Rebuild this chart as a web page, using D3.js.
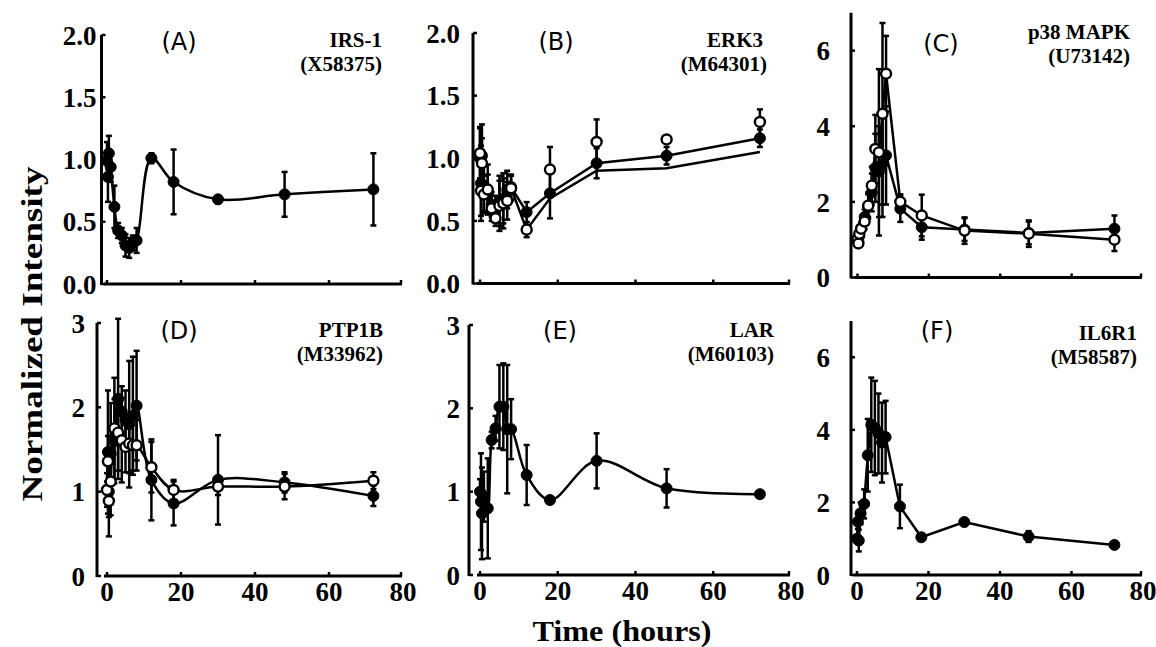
<!DOCTYPE html>
<html>
<head>
<meta charset="utf-8">
<script src="https://cdn.jsdelivr.net/npm/d3@7"></script>
<style>
  body { margin: 0; background: #fff; }
  svg { display: block; }
</style>
</head>
<body>
<svg id="chart" width="1156" height="647"></svg>
<script>
// sampling times (hours) shared by all panels
const hours = [0, 0.25, 0.5, 1, 2, 3, 4, 5, 6, 7, 8, 12, 18, 30, 48, 72];
const xTicks = [0, 20, 40, 60, 80];
const yTicksHalf = [0, 0.5, 1, 1.5, 2];
const yTicksSeven = [0, 2, 4, 6];
const yTicksThree = [0, 1, 2, 3];

const panelLetters = ["(A)", "(B)", "(C)", "(D)", "(E)", "(F)"];
const geneNames = ["IRS-1", "ERK3", "p38 MAPK", "PTP1B", "LAR", "IL6R1"];
const accessions = ["(X58375)", "(M64301)", "(U73142)", "(M33962)", "(M60103)", "(M58587)"];

// (A) IRS-1
const irs1 = [0.99, 0.86, 1.05, 0.94, 0.62, 0.43, 0.39, 0.31, 0.29, 0.33, 0.35, 1.01, 0.82, 0.68, 0.72, 0.76];
const irs1Err = [0.15, 0.2, 0.14, 0.12, 0.17, 0.06, 0.06, 0.09, 0.08, 0.06, 0.1, 0.04, 0.26, 0.03, 0.18, 0.29];

// (B) ERK3
const erk3Filled = [1.0, 0.8, 1.02, 0.78, 0.72, 0.63, 0.6, 0.66, 0.68, 0.75, 0.77, 0.57, 0.72, 0.96, 1.02, 1.16];
const erk3FilledErr = [0.25, 0.3, 0.25, 0.2, 0.15, 0.1, 0.1, 0.2, 0.2, 0.15, 0.1, 0.08, 0.2, 0.12, 0.07, 0.07];
const erk3Open = [1.04, 0.74, 0.96, 0.71, 0.75, 0.6, 0.52, 0.62, 0.64, 0.66, 0.76, 0.43, 0.91, 1.13, 1.15, 1.29];
const erk3OpenErr = [0.2, 0.2, 0.2, 0.15, 0.2, 0.1, 0.06, 0.2, 0.2, 0.15, 0.1, 0.06, 0.18, 0.18, 0, 0.1];
const erk3OpenLine = [1.04, 0.74, 0.96, 0.71, 0.75, 0.6, 0.52, 0.62, 0.64, 0.66, 0.76, 0.43, 0.68, 0.9, 0.92, 1.05];

// (C) p38 MAPK
const p38Filled = [1.0, 0.95, 1.1, 1.3, 1.6, 1.9, 2.25, 2.9, 2.8, 3.0, 3.23, 1.82, 1.33, 1.27, 1.18, 1.29];
const p38FilledErr = [0.1, 0.1, 0.1, 0.15, 0.2, 0.35, 0.5, 0.9, 1.2, 1.4, 1.3, 0.35, 0.33, 0.3, 0.3, 0.35];
const p38Open = [1.02, 0.9, 1.16, 1.29, 1.48, 1.9, 2.43, 3.4, 3.31, 4.33, 5.39, 2.0, 1.64, 1.24, 1.16, 1.0];
const p38OpenErr = [0.1, 0.1, 0.15, 0.15, 0.2, 0.3, 0.5, 0.9, 2.2, 2.4, 1.0, 0.2, 0.55, 0.35, 0.35, 0.3];

// (D) PTP1B
const ptp1bFilled = [1.02, 1.47, 1.0, 1.45, 1.6, 2.1, 1.95, 1.85, 1.8, 1.9, 2.02, 1.14, 0.86, 1.14, 1.11, 0.95];
const ptp1bFilledErr = [0.2, 0.73, 0.3, 0.6, 0.5, 0.95, 0.3, 0.35, 0.75, 0.7, 0.65, 0.48, 0.26, 0.53, 0.12, 0.12];
const ptp1bOpen = [1.02, 1.36, 0.89, 1.12, 1.75, 1.7, 1.61, 1.53, 1.57, 1.55, 1.55, 1.29, 1.02, 1.06, 1.06, 1.13];
const ptp1bOpenErr = [0.1, 0.3, 0.42, 0.4, 0.6, 0.45, 0.5, 0.3, 0.35, 0.3, 0.3, 0.3, 0.12, 0.1, 0.15, 0.1];

// (E) LAR
const lar = [1.0, 0.88, 0.74, 0.94, 0.8, 1.62, 1.76, 2.02, 2.02, 1.75, 1.75, 1.2, 0.9, 1.37, 1.04, 0.97];
const larErr = [0.15, 0.58, 0.55, 0.3, 0.6, 0.1, 0.15, 0.5, 0.52, 0.77, 0.36, 0.36, 0.03, 0.33, 0.23, 0.02];

// (F) IL6R1
const il6r1 = [1.0, 1.47, 0.95, 1.7, 1.96, 3.3, 4.14, 4.05, 3.9, 3.65, 3.8, 1.89, 1.04, 1.46, 1.06, 0.83];
const il6r1Err = [0.1, 0.2, 0.3, 0.3, 0.4, 1.0, 1.3, 1.3, 1.1, 1.1, 1.0, 0.6, 0.05, 0.05, 0.15, 0.05];

const serif = "'Liberation Serif', 'Times New Roman', serif";
const svg = d3.select("#chart");

const panels = [
    { xr: [107, 403], yr: [284, 35], yd: [0, 2], axisX: 101.5, ticks: yTicksHalf, fmt: d3.format(".1f"), gap: 5,
      letter: [179, 50], gene: [382, 47], acc: [382, 71], xLabels: false, curve: d3.curveCatmullRom,
      series: [{ v: irs1, e: irs1Err, open: false }] },
    { xr: [480, 791], yr: [283.5, 33], yd: [0, 2], axisX: 473, ticks: yTicksHalf, fmt: d3.format(".1f"), gap: 13,
      letter: [556, 50], gene: [763, 47], acc: [767, 71], xLabels: false, curve: d3.curveLinear,
      series: [{ v: erk3Filled, e: erk3FilledErr, open: false },
               { v: erk3Open, e: erk3OpenErr, open: true, line: erk3OpenLine }] },
    { xr: [857.5, 1143], yr: [277.5, 12.8], yd: [0, 7], axisX: 851, ticks: yTicksSeven, fmt: d3.format("d"), gap: 21,
      letter: [941, 52], gene: [1130, 39], acc: [1130, 63], xLabels: false, curve: d3.curveLinear,
      series: [{ v: p38Filled, e: p38FilledErr, open: false },
               { v: p38Open, e: p38OpenErr, open: true }] },
    { xr: [107, 403], yr: [576, 323], yd: [0, 3], axisX: 97, ticks: yTicksThree, fmt: d3.format("d"), gap: 12,
      letter: [179, 339], gene: [383, 337], acc: [383, 361], xLabels: true, curve: d3.curveCatmullRom,
      series: [{ v: ptp1bFilled, e: ptp1bFilledErr, open: false },
               { v: ptp1bOpen, e: ptp1bOpenErr, open: true }] },
    { xr: [480, 791], yr: [575, 325], yd: [0, 3], axisX: 469, ticks: yTicksThree, fmt: d3.format("d"), gap: 9,
      letter: [560, 339], gene: [774, 337], acc: [774, 361], xLabels: true, curve: d3.curveCatmullRom,
      series: [{ v: lar, e: larErr, open: false }] },
    { xr: [857, 1143], yr: [575, 321], yd: [0, 7], axisX: 851, ticks: yTicksSeven, fmt: d3.format("d"), gap: 21,
      letter: [937, 339], gene: [1137, 340], acc: [1137, 364], xLabels: true, curve: d3.curveLinear,
      series: [{ v: il6r1, e: il6r1Err, open: false }] }
];

panels.forEach((p, i) => {
    const x = d3.scaleLinear().domain([0, 80]).range(p.xr);
    const y = d3.scaleLinear().domain(p.yd).range(p.yr);
    const g = svg.append("g");

    // y axis
    g.append("line")
        .attr("x1", p.axisX).attr("x2", p.axisX)
        .attr("y1", y(p.yd[0]) + 1).attr("y2", y(p.yd[1]))
        .attr("stroke", "#000").attr("stroke-width", 3);
    g.selectAll(".ytick").data(p.ticks).enter().append("line")
        .attr("x1", p.axisX).attr("x2", p.axisX + 4)
        .attr("y1", d => y(d)).attr("y2", d => y(d))
        .attr("stroke", "#000").attr("stroke-width", 2.5);
    g.selectAll(".ylab").data(p.ticks).enter().append("text")
        .attr("x", p.axisX - p.gap)
        .attr("y", d => y(d))
        .attr("dy", "0.36em")
        .attr("text-anchor", "end")
        .attr("font-family", serif).attr("font-weight", "bold").attr("font-size", 27)
        .text(d => p.fmt(d));

    // x axis
    const base = y(p.yd[0]);
    g.append("line")
        .attr("x1", x(0) - 3).attr("x2", x(80) - 1)
        .attr("y1", base).attr("y2", base)
        .attr("stroke", "#000").attr("stroke-width", 3);
    g.selectAll(".xtick").data(xTicks).enter().append("line")
        .attr("x1", d => Math.min(x(d), x(80) - 2)).attr("x2", d => Math.min(x(d), x(80) - 2))
        .attr("y1", base).attr("y2", base - 4)
        .attr("stroke", "#000").attr("stroke-width", 2.5);
    if (p.xLabels) {
        g.selectAll(".xlab").data(xTicks).enter().append("text")
            .attr("x", d => x(d))
            .attr("y", base + 25)
            .attr("text-anchor", "middle")
            .attr("font-family", serif).attr("font-weight", "bold").attr("font-size", 27)
            .text(d => d);
    }

    // error bars
    p.series.forEach(s => {
        const pts = hours.map((t, k) => ({ t: t, v: s.v[k], e: s.e[k] })).filter(d => d.e > 0);
        const eb = g.append("g").attr("stroke", "#000").attr("stroke-width", 2.5);
        eb.selectAll(".stem").data(pts).enter().append("line")
            .attr("x1", d => x(d.t)).attr("x2", d => x(d.t))
            .attr("y1", d => y(d.v - d.e)).attr("y2", d => y(d.v + d.e));
        eb.selectAll(".capt").data(pts).enter().append("line")
            .attr("x1", d => x(d.t) - 3).attr("x2", d => x(d.t) + 3)
            .attr("y1", d => y(d.v + d.e)).attr("y2", d => y(d.v + d.e));
        eb.selectAll(".capb").data(pts).enter().append("line")
            .attr("x1", d => x(d.t) - 3).attr("x2", d => x(d.t) + 3)
            .attr("y1", d => y(d.v - d.e)).attr("y2", d => y(d.v - d.e));
    });

    // lines
    p.series.forEach(s => {
        const vals = s.line || s.v;
        const line = d3.line().x((d, k) => x(hours[k])).y(d => y(d)).curve(p.curve);
        g.append("path")
            .attr("d", line(vals))
            .attr("fill", "none").attr("stroke", "#000").attr("stroke-width", 2.5);
    });

    // markers: filled first, open on top
    p.series.slice().sort((a, b) => a.open - b.open).forEach(s => {
        g.selectAll(null).data(s.v).enter().append("circle")
            .attr("cx", (d, k) => x(hours[k]))
            .attr("cy", d => y(d))
            .attr("r", s.open ? 5 : 5.5)
            .attr("fill", s.open ? "#fff" : "#000")
            .attr("stroke", "#000").attr("stroke-width", s.open ? 2.4 : 1);
    });

    // panel letter and gene labels
    g.append("text")
        .attr("x", p.letter[0]).attr("y", p.letter[1])
        .attr("text-anchor", "middle")
        .attr("font-family", "'DejaVu Sans', sans-serif").attr("font-size", 24)
        .attr("fill", "#000")
        .text(panelLetters[i]);
    g.append("text")
        .attr("x", p.gene[0]).attr("y", p.gene[1])
        .attr("text-anchor", "end")
        .attr("font-family", serif).attr("font-weight", "bold").attr("font-size", 21)
        .text(geneNames[i]);
    g.append("text")
        .attr("x", p.acc[0]).attr("y", p.acc[1])
        .attr("text-anchor", "end")
        .attr("font-family", serif).attr("font-weight", "bold").attr("font-size", 21)
        .text(accessions[i]);
});

// axis titles
svg.append("text")
    .attr("transform", "translate(42,334) rotate(-90)")
    .attr("text-anchor", "middle")
    .attr("font-family", serif).attr("font-weight", "bold").attr("font-size", 30)
    .attr("textLength", 335).attr("lengthAdjust", "spacingAndGlyphs")
    .text("Normalized Intensity");
svg.append("text")
    .attr("x", 622).attr("y", 641)
    .attr("text-anchor", "middle")
    .attr("font-family", serif).attr("font-weight", "bold").attr("font-size", 30)
    .attr("textLength", 179).attr("lengthAdjust", "spacingAndGlyphs")
    .text("Time (hours)");
</script>
</body>
</html>
